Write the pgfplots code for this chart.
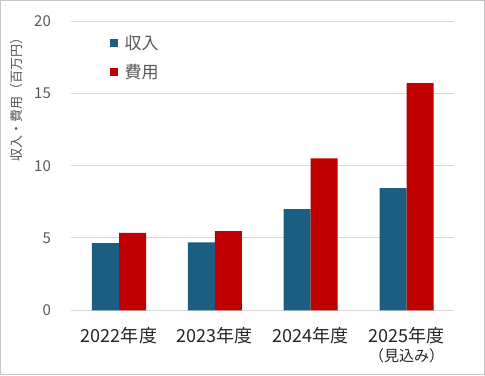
\documentclass[border=0pt]{standalone}
\usepackage{pgfplots}
\pgfplotsset{compat=1.18}
\usepackage{fontspec}
\setmainfont{Noto Sans CJK JP}
\definecolor{cblue}{HTML}{1B5E82}
\definecolor{cred}{HTML}{C00000}
\definecolor{tgray}{HTML}{595959}
\definecolor{ggray}{HTML}{D9D9D9}
\begin{document}
\begin{tikzpicture}[x=1bp,y=1bp]
\draw[draw=gray!45, line width=1bp, fill=white] (0.5,0.5) rectangle (484,374.5);
\begin{axis}[
  at={(71bp,65bp)}, anchor=south west,
  scale only axis, width=383bp, height=289bp,
  ybar=0pt, bar width=27bp,
  xmin=-0.5, xmax=3.5, ymin=0, ymax=20,
  axis line style={draw=none},
  ymajorgrids, grid style={ggray, line width=1bp},
  ytick={0,5,10,15,20},
  xtick={0,1,2,3},
  xticklabels={2022年度,2023年度,2024年度,{2025年度\\[-2bp]{\fontsize{15bp}{17bp}\selectfont （見込み）}}},
  xticklabel style={anchor=north, inner sep=0pt, yshift=-17bp, align=center, font=\fontsize{18bp}{21bp}\selectfont, text=black!85},
  yticklabel style={anchor=east, inner sep=0pt, xshift=-20bp, font=\fontsize{15bp}{18bp}\selectfont, text=tgray},
  /pgf/number format/assume math mode=true,
  major tick length=0pt,
  legend style={at={(0.100,0.955)}, anchor=north west, draw=none, fill=none, inner sep=0pt, row sep=11bp,
    font=\fontsize{17bp}{20bp}\selectfont, text=tgray, nodes={inner sep=1bp},
    /tikz/every odd column/.append style={column sep=6bp}},
  legend cell align=left,
  legend image code/.code={\fill[#1] (0bp,-4bp) rectangle (8bp,4bp);},
]
\addplot[fill=cblue, draw=none] coordinates {(0,4.64) (1,4.70) (2,7.0) (3,8.45)};
\addplot[fill=cred, draw=none] coordinates {(0,5.35) (1,5.47) (2,10.5) (3,15.7)};
\legend{収入,費用}
\end{axis}
\node[rotate=90, font=\fontsize{13bp}{15bp}\selectfont, text=tgray] at (17,279) {収入・費用（百万円）};
\end{tikzpicture}
\end{document}
